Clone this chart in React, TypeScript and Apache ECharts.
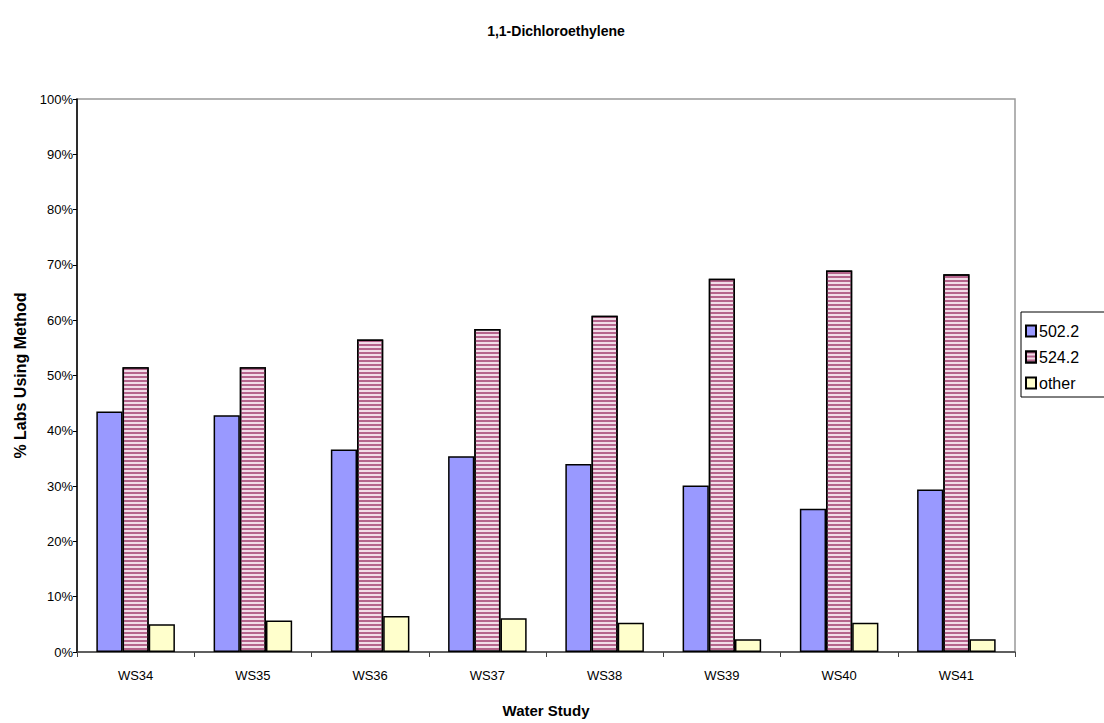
import React, { useEffect, useRef } from "react";
import * as echarts from "echarts";

const categories = ["WS34", "WS35", "WS36", "WS37", "WS38", "WS39", "WS40", "WS41"];
const s502 = [43.5, 42.8, 36.6, 35.4, 34.0, 30.1, 25.9, 29.4];
const s524 = [51.5, 51.5, 56.5, 58.4, 60.8, 67.5, 69.0, 68.3];
const sOther = [5.0, 5.7, 6.5, 6.1, 5.3, 2.3, 5.3, 2.3];
const yTicks = [0, 10, 20, 30, 40, 50, 60, 70, 80, 90, 100];

const FONT = "'Liberation Sans', Arial, sans-serif";

export default function App() {
  const ref = useRef<HTMLDivElement>(null);
  useEffect(() => {
    if (!ref.current) return;
    const chart = echarts.init(ref.current, undefined, { renderer: "svg" });
    const edge = { borderColor: "#000", borderWidth: 1.5 };
    chart.setOption({
      animation: false,
      backgroundColor: "#fff",
      title: {
        text: "1,1-Dichloroethylene",
        left: 551,
        top: 19,
        textAlign: "center",
        textStyle: { fontFamily: FONT, fontSize: 14, fontWeight: "bold", color: "#000" },
      },
      grid: {
        left: 77,
        right: 89,
        top: 99,
        bottom: 71,
        show: true,
        borderColor: "#999",
        borderWidth: 1.5,
        backgroundColor: "transparent",
      },
      legend: {
        orient: "vertical",
        left: 1025,
        top: 323,
        icon: "rect",
        itemWidth: 10,
        itemHeight: 11,
        itemGap: 10,
        padding: 0,
        textStyle: { fontFamily: FONT, fontSize: 16, color: "#000", padding: [0, 0, 0, -2] },
        data: ["502.2", "524.2", "other"],
      },
      graphic: [
        {
          type: "rect",
          shape: { x: 1021, y: 312, width: 120, height: 85 },
          style: { fill: "none", stroke: "#000", lineWidth: 1 },
          z: -1,
        },
      ],
      xAxis: {
        type: "category",
        data: categories,
        name: "Water Study",
        nameLocation: "middle",
        nameGap: 51,
        nameTextStyle: { fontFamily: FONT, fontSize: 15, fontWeight: "bold", color: "#000" },
        axisLine: { lineStyle: { color: "#444", width: 1.5 } },
        axisTick: { show: true, inside: false, length: 5, lineStyle: { color: "#444" } },
        axisLabel: { fontFamily: FONT, fontSize: 13, color: "#000", margin: 17 },
        splitLine: { show: false },
      },
      yAxis: {
        type: "value",
        min: 0,
        max: 100,
        interval: 10,
        name: "% Labs Using Method",
        nameLocation: "middle",
        nameGap: 48,
        nameTextStyle: { fontFamily: FONT, fontSize: 16, fontWeight: "bold", color: "#000" },
        axisLine: { show: true, lineStyle: { color: "#000", width: 1.5 } },
        axisTick: { show: true, length: 4, lineStyle: { color: "#000" } },
        axisLabel: {
          fontFamily: FONT,
          fontSize: 13,
          color: "#000",
          margin: 4,
          formatter: (v: number) => (yTicks.includes(v) ? v + "%" : ""),
        },
        splitLine: { show: false },
      },
      series: [
        {
          name: "502.2",
          type: "bar",
          data: s502,
          barGap: "0%",
          barCategoryGap: "33%",
          itemStyle: { color: "#9999ff", ...edge },
        },
        {
          name: "524.2",
          type: "bar",
          data: s524,
          barGap: "0%",
          barCategoryGap: "33%",
          itemStyle: {
            color: "#f2dce8",
            ...edge,
            decal: {
              symbol: "rect",
              symbolSize: 1,
              dashArrayX: [1, 0],
              dashArrayY: [1.5, 1.5],
              rotation: 0,
              color: "#b5648c",
            },
          },
        },
        {
          name: "other",
          type: "bar",
          data: sOther,
          barGap: "0%",
          barCategoryGap: "33%",
          itemStyle: { color: "#ffffcc", ...edge },
        },
      ],
    });
    return () => chart.dispose();
  }, []);
  return <div ref={ref} style={{ width: 1104, height: 723, position: "absolute", left: 0, top: 0 }} />;
}
